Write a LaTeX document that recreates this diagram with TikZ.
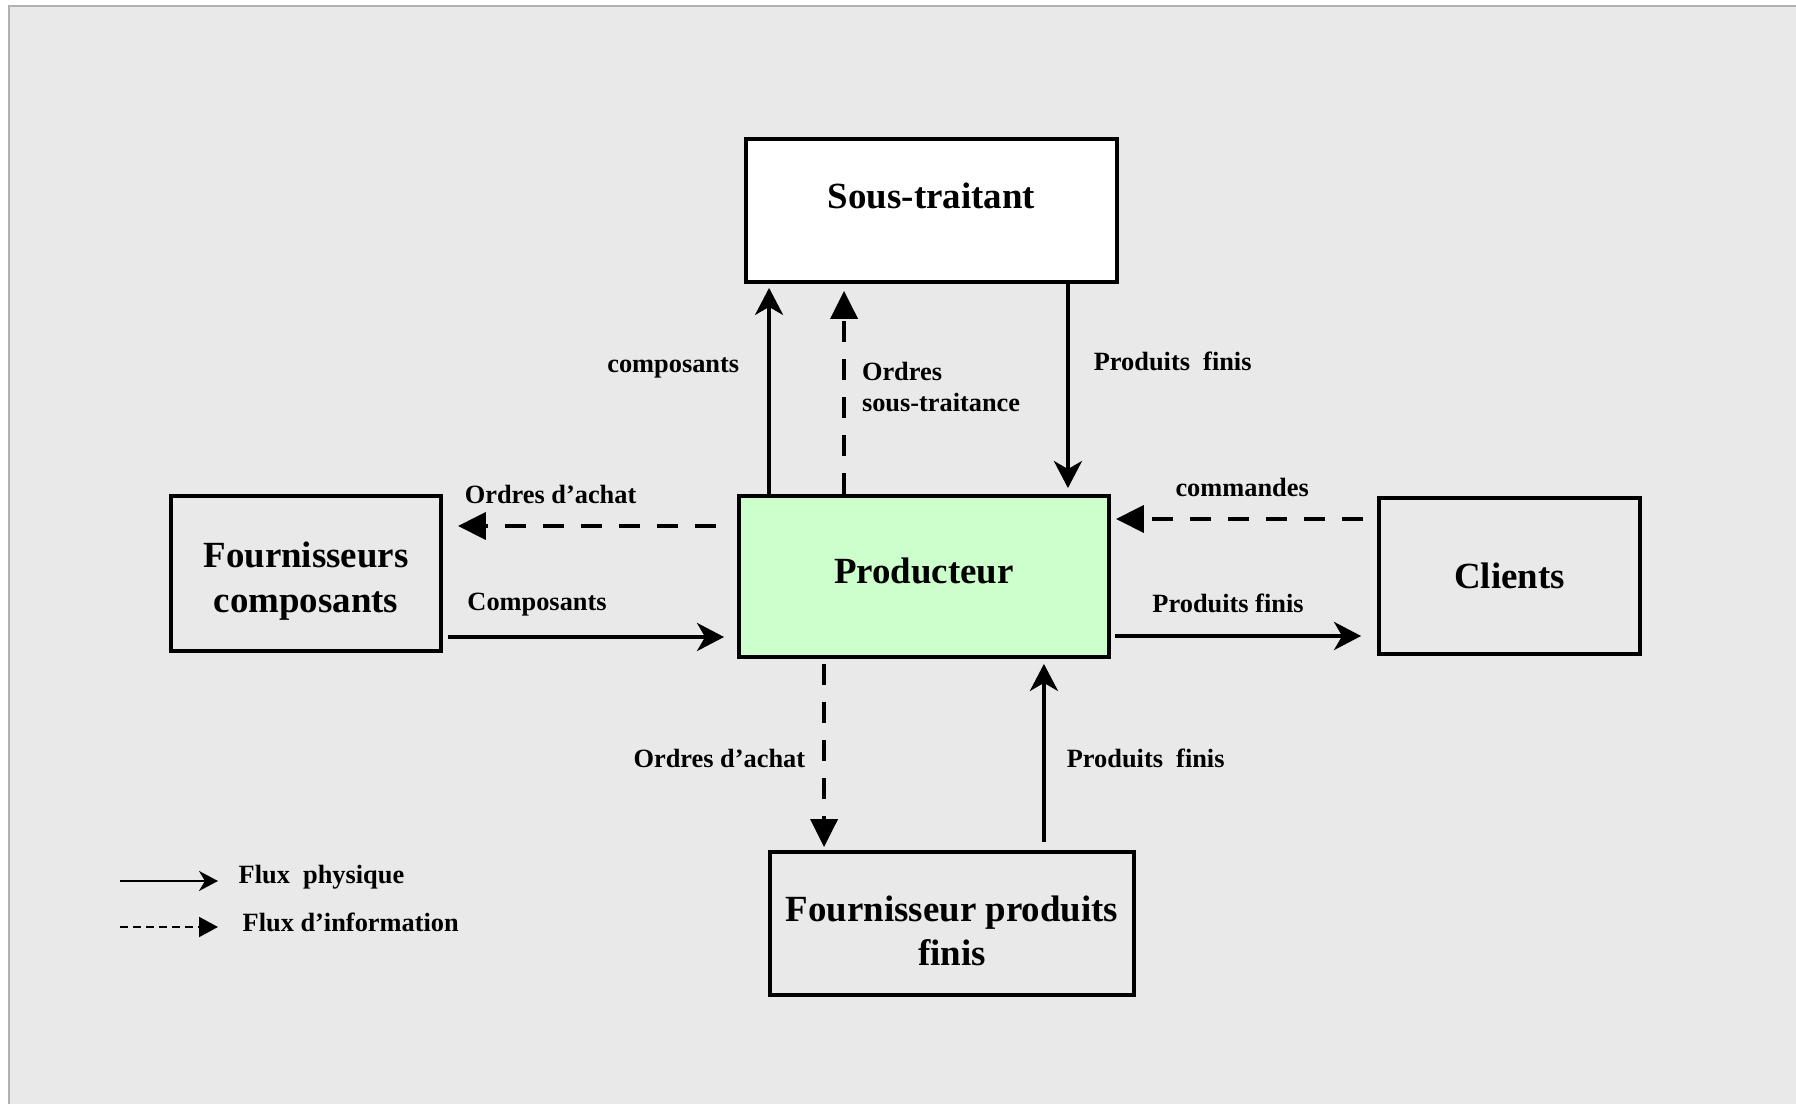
\documentclass[tikz,border=0pt]{standalone}
\usepackage{fontspec}
\setmainfont{Liberation Serif}
\usetikzlibrary{positioning,arrows.meta}

\definecolor{bggray}{HTML}{E9E9E9}
\definecolor{framegray}{HTML}{B2B2B2}
\definecolor{prodgreen}{HTML}{CCFFCC}

\begin{document}
\begin{tikzpicture}[
  box/.style={
    draw, line width=1.1pt, rectangle,
    align=center, fill=bggray,
    font=\fontsize{10.5}{12.6}\selectfont\bfseries,
  },
  lbl/.style={font=\fontsize{7.5}{9}\selectfont\bfseries, inner sep=0pt, align=left},
  phys/.style={-{Stealth[length=2.7mm,width=2.8mm,inset=0.8mm]}, line width=1.1pt},
  info/.style={-{Triangle[length=2.8mm,width=2.7mm]}, line width=1.1pt, dash pattern=on 2.1mm off 1.7mm},
  legphys/.style={-{Stealth[length=1.9mm,width=2mm,inset=0.6mm]}, line width=0.6pt},
  leginfo/.style={-{Triangle[length=1.9mm,width=2mm]}, line width=0.6pt, dash pattern=on 0.8mm off 0.5mm},
]

% page and frame
\useasboundingbox (0,0) rectangle (17.96,-11.04);
\fill[bggray] (0.09,-0.06) rectangle (17.96,-11.04);
\draw[framegray, line width=0.7pt] (0.09,-11.04) -- (0.09,-0.06) -- (17.96,-0.06);

\node[box, fill=white, minimum width=3.71cm, minimum height=1.43cm, text depth=3mm] (soustr) at (9.315,-2.105) {Sous-traitant};
\node[box, fill=prodgreen, minimum width=3.70cm, minimum height=1.61cm, text depth=1.2mm] (prod) at (9.24,-5.765) {Producteur};
\node[box, minimum width=2.70cm, minimum height=1.55cm, text height=8.5mm] (fourn) at (3.06,-5.735) {Fournisseurs\\composants};
\node[box, minimum width=2.61cm, minimum height=1.56cm] (clients) at (15.095,-5.76) {Clients};
\node[box, minimum width=3.64cm, minimum height=1.43cm, text height=8.5mm] (fpf) at (9.52,-9.235) {Fournisseur produits\\finis};

% Producteur <-> Sous-traitant
\draw[phys, shorten >=0.4mm] ([xshift=3.2mm]prod.north west) -- ([xshift=3.2mm]prod.north west |- soustr.south)
  node[lbl, pos=0.6, left=2.8mm] (lcomp) {composants};
\draw[info, shorten >=0.7mm] ([xshift=10.7mm]prod.north west) -- ([xshift=10.7mm]prod.north west |- soustr.south)
  node[lbl, pos=0.51, right=1.6mm] (lordst) {Ordres\\sous-traitance};
\draw[phys, shorten >=0.6mm] ([xshift=-5.1mm]soustr.south east) -- ([xshift=-5.1mm]soustr.south east |- prod.north)
  node[lbl, pos=0.37, right=2.4mm] (lpfst) {Produits\ \ finis};

% Producteur <-> Fournisseurs composants
\draw[info, shorten <=2.1mm, shorten >=1.5mm] ([yshift=5.05mm]prod.west) -- ([yshift=5.05mm]prod.west -| fourn.east)
  node[lbl, pos=0.634, above=2mm] (loa1) {Ordres d’achat};
\draw[phys, shorten <=0.5mm, shorten >=1.3mm] ([yshift=-6.05mm]prod.west -| fourn.east) -- ([yshift=-6.05mm]prod.west)
  node[lbl, pos=0.32, above=1.9mm] (lcomp2) {Composants};

% Producteur <-> Clients
\draw[info, shorten <=1.4mm, shorten >=0.5mm] ([yshift=5.75mm]prod.east -| clients.west) -- ([yshift=5.75mm]prod.east)
  node[lbl, pos=0.507, above=2mm] (lcmd) {commandes};
\draw[phys, shorten <=0.4mm, shorten >=1.6mm] ([yshift=-5.95mm]prod.east) -- ([yshift=-5.95mm]prod.east -| clients.west)
  node[lbl, pos=0.44, above=2.1mm] (lpfcl) {Produits finis};

% Producteur <-> Fournisseur produits finis
\draw[info, shorten <=0.5mm, shorten >=0.3mm] ([xshift=8.7mm]prod.south west) -- ([xshift=8.7mm]prod.south west |- fpf.north)
  node[lbl, pos=0.52, left=1.7mm] (loa2) {Ordres d’achat};
\draw[phys, shorten <=0.8mm, shorten >=0.5mm] ([xshift=-6.7mm]prod.south east |- fpf.north) -- ([xshift=-6.7mm]prod.south east)
  node[lbl, pos=0.48, right=2.1mm] (lpffp) {Produits\ \ finis};

% legend
\coordinate (lgphys) at (1.20,-8.81);
\coordinate (lginfo) at (1.20,-9.27);
\node[lbl, anchor=west] (lphys) at (2.38,-8.77) {Flux\ \ physique};
\node[lbl, anchor=west] (linfo) at (2.42,-9.22) {Flux d’information};
\draw[legphys, shorten >=2mm] (lgphys) -- (lgphys -| lphys.west);
\draw[leginfo, shorten >=2.4mm] (lginfo) -- (lginfo -| linfo.west);

\end{tikzpicture}
\end{document}
